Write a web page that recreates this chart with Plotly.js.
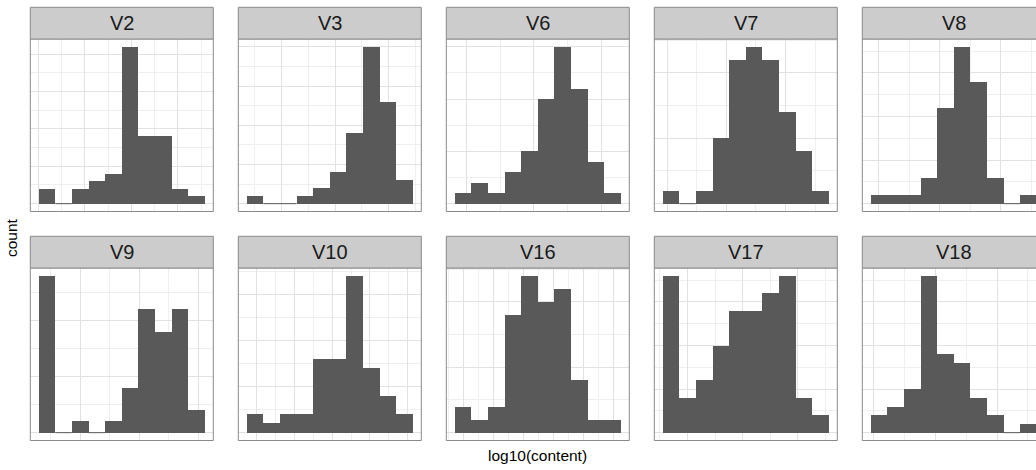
<!DOCTYPE html>
<html><head><meta charset="utf-8">
<script src="https://cdn.plot.ly/plotly-3.0.1.min.js"></script>
<style>html,body{margin:0;padding:0;overflow:hidden;background:#fff}</style>
</head><body><div id="chart"></div>
<script>
// ---- data (counts per histogram bin, 10 bins per panel) ----
const panels = ["V2","V3","V6","V7","V8","V9","V10","V16","V17","V18"];
const V2  = [2,0,2,3,4,21,9,9,2,1];
const V3  = [1,0,0,1,2,4,9,20,13,3];
const V6  = [1,2,1,3,5,10,15,11,4,1];
const V7  = [1,0,1,5,11,12,11,7,4,1];
const V8  = [1,1,1,3,11,18,14,3,0,1];
const V9  = [14,0,1,0,1,4,11,9,11,2];
const V10 = [2,1,2,2,8,8,17,7,4,2];
const V16 = [2,1,2,9,12,10,11,4,1,1];
const V17 = [9,2,3,5,7,7,8,9,2,1];
const V18 = [2,3,5,18,9,8,4,2,0,1];
// first bin edge and bin width of log10(content) for each panel
const binStart = [1.01,1.345,0.828,0.924,0.863,0.298,0.745,0.844,0.551,0.946];
const binWidth = [0.357,0.311,0.246,0.281,0.273,0.282,0.439,0.278,0.301,0.270];
const xTitle = "log10(content)";
const yTitle = "count";

const counts = [V2,V3,V6,V7,V8,V9,V10,V16,V17,V18];

// ---- layout geometry ----
const W = 1052, H = 470;
const colStart = 30.3, colStep = 208, panelW = 183;
const rows = [{top:39, bottom:211.5}, {top:268, bottom:440.5}];
const stripH = 31.7;
const xGrid = [0.5,0.5,0.5,0.5,0.5,0.5,0.5,0.25,0.5,0.5];
const yGrid = [2.5,2.5,2.5,2.5,2.5,2.5,2.5,2.5,1.25,2.5];

const FONT = "Liberation Sans, Arial, sans-serif";
const BAR = "#595959", BORDER = "#8a8a8a", STRIP = "#cccccc";

const traces = [], shapes = [], annotations = [];
const layout = {
  width: W, height: H,
  margin: {l:0, r:0, t:0, b:0},
  paper_bgcolor: "#fff", plot_bgcolor: "#fff",
  showlegend: false,
  bargap: 0,
  font: {family: FONT, color: "#1a1a1a"}
};

panels.forEach((name, i) => {
  const r = Math.floor(i / 5), c = i % 5;
  const n = i + 1;
  const xa = "x" + (n === 1 ? "" : n), ya = "y" + (n === 1 ? "" : n);
  const xk = "xaxis" + (n === 1 ? "" : n), yk = "yaxis" + (n === 1 ? "" : n);
  const x0px = colStart + c * colStep, x1px = x0px + panelW;
  const row = rows[r];
  const dom = [x0px / W, x1px / W];
  const ydom = [(H - row.bottom) / H, (H - row.top) / H];
  const w = binWidth[i], s = binStart[i];
  const data = counts[i];
  const centers = data.map((_, k) => s + (k + 0.5) * w);
  const maxC = Math.max(...data);

  traces.push({
    type: "bar", x: centers, y: data, width: w,
    xaxis: xa, yaxis: ya,
    marker: {color: BAR, line: {width: 0}},
    hoverinfo: "x+y"
  });
  // zero-count bins drawn as a hairline at the baseline (as ggplot does)
  data.forEach((v, k) => {
    if (v === 0) {
      shapes.push({type: "line", xref: xa, yref: ya,
        x0: s + k * w, x1: s + (k + 1) * w, y0: 0, y1: 0,
        line: {color: BAR, width: 1}, layer: "above"});
    }
  });

  const lo = s, hi = s + 10 * w, pad = 0.05 * (hi - lo);
  layout[xk] = {
    domain: dom, anchor: ya, range: [lo - pad, hi + pad],
    showticklabels: false, ticks: "", zeroline: false, showline: false,
    tick0: 0, dtick: 2 * xGrid[i], showgrid: true, gridcolor: "#e2e2e2", gridwidth: 1,
    minor: {tick0: 0, dtick: xGrid[i], showgrid: true, gridcolor: "#efefef", gridwidth: 1},
    fixedrange: true
  };
  layout[yk] = {
    domain: ydom, anchor: xa, range: [-0.05 * maxC, 1.05 * maxC],
    showticklabels: false, ticks: "", zeroline: false, showline: false,
    tick0: 0, dtick: 2 * yGrid[i], showgrid: true, gridcolor: "#e2e2e2", gridwidth: 1,
    minor: {tick0: 0, dtick: yGrid[i], showgrid: true, gridcolor: "#efefef", gridwidth: 1},
    fixedrange: true
  };

  // panel border
  shapes.push({type: "rect", xref: "paper", yref: "paper",
    x0: dom[0], x1: dom[1], y0: ydom[0], y1: ydom[1],
    line: {color: BORDER, width: 1}, fillcolor: "rgba(0,0,0,0)", layer: "above"});
  // strip
  const sy0 = (H - row.top) / H, sy1 = (H - row.top + stripH) / H;
  shapes.push({type: "rect", xref: "paper", yref: "paper",
    x0: dom[0], x1: dom[1], y0: sy0, y1: sy1,
    line: {color: BORDER, width: 1}, fillcolor: STRIP, layer: "above"});
  annotations.push({xref: "paper", yref: "paper",
    x: (dom[0] + dom[1]) / 2, y: (sy0 + sy1) / 2,
    xanchor: "center", yanchor: "middle", showarrow: false,
    text: name, font: {family: FONT, size: 20, color: "#1a1a1a"}});
});

annotations.push({xref: "paper", yref: "paper",
  x: (colStart + (colStart + 4 * colStep + panelW)) / 2 / W, y: (H - 455) / H,
  xanchor: "center", yanchor: "middle", showarrow: false,
  text: xTitle, font: {family: FONT, size: 15.5, color: "#000"}});
annotations.push({xref: "paper", yref: "paper",
  x: 12 / W, y: (H - 238) / H, textangle: -90,
  xanchor: "center", yanchor: "middle", showarrow: false,
  text: yTitle, font: {family: FONT, size: 15.5, color: "#000"}});

layout.shapes = shapes;
layout.annotations = annotations;

Plotly.newPlot("chart", traces, layout, {displayModeBar: false, staticPlot: true});
</script>
</body></html>
